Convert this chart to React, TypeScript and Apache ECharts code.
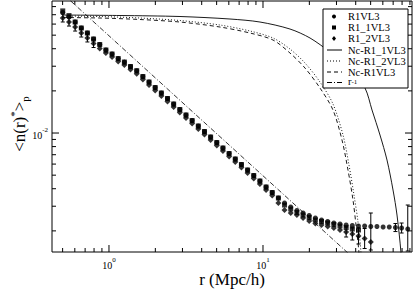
import React, { useEffect, useRef } from "react";
import * as echarts from "echarts";

// radial bins (Mpc/h)
const rBins = [0.501, 0.550, 0.603, 0.661, 0.724, 0.794, 0.871, 0.955, 1.047, 1.148, 1.259, 1.380, 1.514, 1.660, 1.820, 1.995, 2.188, 2.399, 2.630, 2.884, 3.162, 3.467, 3.802, 4.169, 4.571, 5.012, 5.495, 6.026, 6.607, 7.244, 7.943, 8.710, 9.550, 10.47, 11.48, 12.59, 13.80, 15.14, 16.60, 18.20, 19.95, 21.88, 23.99, 26.30, 28.84, 31.62, 34.67, 38.02, 41.69, 45.71, 50.12, 54.95, 60.26, 66.07, 72.44, 79.43, 87.10];

const r1vl3 = [0.07257, 0.06741, 0.06206, 0.05623, 0.05179, 0.04692, 0.04286, 0.03916, 0.03666, 0.03404, 0.03213, 0.02985, 0.02786, 0.02533, 0.02313, 0.02113, 0.01931, 0.01764, 0.01611, 0.01472, 0.01345, 0.01228, 0.01122, 0.01025, 0.009363, 0.008552, 0.007813, 0.007137, 0.006520, 0.005957, 0.005441, 0.004970, 0.004541, 0.004114, 0.003758, 0.003433, 0.003162, 0.002961, 0.002795, 0.002683, 0.002575, 0.002471, 0.002391, 0.002333, 0.002276, 0.002239, 0.002203, 0.002185, 0.002167, 0.002167, 0.002149, 0.002149, 0.002131, 0.002131, 0.002113, 0.002096, 0.002062];

const r1_1vl3 = [0.0745, 0.0690, 0.06206, 0.05623, 0.05179, 0.04692, 0.04286, 0.03916, 0.03666, 0.03404, 0.03213, 0.02985, 0.02786, 0.02533, 0.02313, 0.02113, 0.01931, 0.01764, 0.01611, 0.01472, 0.01345, 0.01228, 0.01122, 0.01025, 0.009363, 0.008552, 0.007813, 0.007137, 0.006520, 0.005957, 0.005441, 0.004970, 0.004541, 0.004114, 0.003758, 0.003433, 0.003060, 0.002865, 0.002705, 0.002596, 0.002491, 0.002391, 0.002333, 0.002276, 0.002221, 0.002167, 0.002113, 0.002062, 0.002029];

const r1_2vl3 = [0.06630, 0.06206, 0.05716, 0.05179, 0.04771, 0.04357, 0.04014, 0.03727, 0.03490, 0.03240, 0.03059, 0.02842, 0.02652, 0.02411, 0.02203, 0.02012, 0.01838, 0.01679, 0.01534, 0.01401, 0.01280, 0.01169, 0.01068, 0.009756, 0.008913, 0.008140, 0.007436, 0.006793, 0.006206, 0.005669, 0.005179, 0.004732, 0.004323, 0.003916, 0.003577, 0.003162, 0.002818, 0.002683, 0.002596, 0.002471, 0.002352, 0.002257, 0.002203, 0.002149, 0.002096, 0.002029, 0.001963, 0.001900, 0.001838, 0.001764, 0.001665];

// error bars
const errR = [0.501, 0.550, 0.603, 0.661, 0.724, 0.794, 34.67, 38.02, 41.69, 45.71, 50.12, 72.44, 79.43, 87.10];
const errLo = [0.0621, 0.0581, 0.0535, 0.0485, 0.0447, 0.0408, 0.001808, 0.001721, 0.001611, 0.001496, 0.001460, 0.001978, 0.001931, 0.001436];
const errHi = [0.0708, 0.0663, 0.0610, 0.0553, 0.0510, 0.0465, 0.002131, 0.002098, 0.002097, 0.002080, 0.002683, 0.002257, 0.002276, 0.003060];

// model curves
const ncR1_1R = [0.503, 1.179, 2.891, 6.106, 9.561, 14.97, 20.20, 27.23, 36.72, 45.95, 51.04, 57.51, 63.86, 69.88, 74.16, 78.73, 81.13];
const ncR1_1V = [0.06965, 0.06908, 0.06795, 0.06522, 0.06206, 0.05532, 0.04771, 0.03790, 0.02912, 0.02096, 0.01460, 0.009676, 0.006413, 0.003916, 0.002596, 0.001389, 0.000756];
const ncR1_2R = [0.503, 0.874, 1.590, 2.891, 5.258, 8.234, 11.61, 14.97, 18.74, 23.45, 28.48, 33.08, 36.18, 38.99, 41.39, 43.29, 44.61];
const ncR1_2V = [0.06852, 0.06795, 0.06630, 0.06362, 0.05907, 0.05354, 0.04771, 0.03981, 0.03162, 0.02313, 0.01611, 0.009676, 0.005908, 0.003606, 0.002314, 0.001389, 0.000756];
const ncR1R = [0.503, 0.874, 1.590, 2.891, 5.258, 8.234, 11.61, 14.97, 18.74, 23.45, 28.48, 32.59, 35.64, 38.41, 40.17, 42.01, 43.29];
const ncR1V = [0.06683, 0.06630, 0.06468, 0.06206, 0.05716, 0.05179, 0.04616, 0.03727, 0.02912, 0.02096, 0.01460, 0.008913, 0.005441, 0.003322, 0.002203, 0.001389, 0.000756];
const rInvR = [0.45, 90];
const rInvV = [0.11, 0.00055];

// axis ticks
const xMajorTicks = [1, 10];
const xMinorTicks = [0.5, 0.6, 0.7, 0.8, 0.9, 2, 3, 4, 5, 6, 7, 8, 9, 20, 30, 40, 50, 60, 70, 80, 90];
const yMajorTicks = [0.01];
const yMinorTicks = [0.002, 0.003, 0.004, 0.005, 0.006, 0.007, 0.008, 0.009, 0.02, 0.03, 0.04, 0.05, 0.06, 0.07, 0.08];

const X_MIN = 0.4266;
const X_MAX = 92.8;
const Y_MIN = 0.001413;
const Y_MAX = 0.0877;

const FONT = "'Liberation Serif', 'DejaVu Serif', serif";

export default function App() {
  const ref = useRef<HTMLDivElement>(null);
  useEffect(() => {
    if (!ref.current) return;
    const chart = echarts.init(ref.current, undefined, { renderer: "svg" });
    const near = (a: number, b: number) => Math.abs(a - b) < 1e-6 * Math.max(1, Math.abs(b));

    const xTickData = [
      ...xMajorTicks.map((v) => [v, 0.01, 1]),
      ...xMinorTicks.map((v) => [v, 0.01, 0]),
    ];
    const yTickData = [
      ...yMajorTicks.map((v) => [1, v, 1]),
      ...yMinorTicks.map((v) => [1, v, 0]),
    ];
    const tickStyle = { stroke: "#000", lineWidth: 1 };

    const legendX = 323;
    const legendY = 9;
    const rowY = [16.5, 27.5, 38.5, 50, 61, 72, 82.5];
    const symX = 334;
    const txtX = 348;
    const legendText = (t: string, y: number) => ({
      type: "text",
      z: 101,
      style: { text: t, x: txtX, y, font: `10.5px ${FONT}`, fill: "#000", verticalAlign: "middle" },
    });
    const legendLine = (y: number, dash: any) => ({
      type: "line",
      z: 101,
      shape: { x1: 327, y1: y, x2: 342, y2: y },
      style: { stroke: "#000", lineWidth: 1, lineDash: dash },
    });

    const option: any = {
      animation: false,
      grid: { left: 52, right: 3, top: 1, bottom: 37, show: true, borderColor: "#000", borderWidth: 1, backgroundColor: "transparent" },
      xAxis: {
        type: "log",
        logBase: 10,
        min: X_MIN,
        max: X_MAX,
        axisLine: { show: false },
        axisTick: { show: false },
        splitLine: { show: false },
        axisLabel: {
          margin: 4,
          showMinLabel: false,
          showMaxLabel: false,
          formatter: (v: number) => (near(v, 1) ? "{b|10}{s|0}" : near(v, 10) ? "{b|10}{s|1}" : ""),
          rich: {
            b: { fontSize: 10, fontFamily: FONT, color: "#000", lineHeight: 14, verticalAlign: "bottom" },
            s: { fontSize: 7, fontFamily: FONT, color: "#000", lineHeight: 14, verticalAlign: "top" },
          },
        },
      },
      yAxis: {
        type: "log",
        logBase: 10,
        min: Y_MIN,
        max: Y_MAX,
        axisLine: { show: false },
        axisTick: { show: false },
        splitLine: { show: false },
        axisLabel: {
          margin: 4,
          showMinLabel: false,
          showMaxLabel: false,
          formatter: (v: number) => (near(v, 0.01) ? "{b|10}{s|-2}" : ""),
          rich: {
            b: { fontSize: 10, fontFamily: FONT, color: "#000", lineHeight: 14, verticalAlign: "bottom" },
            s: { fontSize: 7, fontFamily: FONT, color: "#000", lineHeight: 14, verticalAlign: "top" },
          },
        },
      },
      series: [
        {
          type: "custom",
          name: "xticks",
          data: xTickData,
          encode: { x: 0, y: 1 },
          silent: true,
          z: 5,
          renderItem: (params: any, api: any) => {
            const cs = params.coordSys;
            const px = api.coord([api.value(0), 0.01])[0];
            const len = api.value(2) ? 7 : 4;
            return {
              type: "group",
              children: [
                { type: "line", shape: { x1: px, y1: cs.y + cs.height, x2: px, y2: cs.y + cs.height - len }, style: tickStyle },
                { type: "line", shape: { x1: px, y1: cs.y, x2: px, y2: cs.y + len }, style: tickStyle },
              ],
            };
          },
        },
        {
          type: "custom",
          name: "yticks",
          data: yTickData,
          encode: { x: 0, y: 1 },
          silent: true,
          z: 5,
          renderItem: (params: any, api: any) => {
            const cs = params.coordSys;
            const py = api.coord([1, api.value(1)])[1];
            const len = api.value(2) ? 7 : 4;
            return {
              type: "group",
              children: [
                { type: "line", shape: { x1: cs.x, y1: py, x2: cs.x + len, y2: py }, style: tickStyle },
                { type: "line", shape: { x1: cs.x + cs.width, y1: py, x2: cs.x + cs.width - len, y2: py }, style: tickStyle },
              ],
            };
          },
        },
        {
          type: "line",
          name: "r^-1",
          data: rInvR.map((r, i) => [r, rInvV[i]]),
          showSymbol: false,
          symbol: "none",
          clip: true,
          lineStyle: { color: "#000", width: 0.8, type: [5, 2, 1, 2] },
          z: 3,
        },
        {
          type: "line",
          name: "Nc-R1_1VL3",
          data: ncR1_1R.map((r, i) => [r, ncR1_1V[i]]),
          showSymbol: false,
          symbol: "none",
          smooth: 0.3,
          clip: true,
          lineStyle: { color: "#000", width: 0.9, type: "solid" },
          z: 3,
        },
        {
          type: "line",
          name: "Nc-R1_2VL3",
          data: ncR1_2R.map((r, i) => [r, ncR1_2V[i]]),
          showSymbol: false,
          symbol: "none",
          smooth: 0.3,
          clip: true,
          lineStyle: { color: "#000", width: 0.9, type: [1, 2] },
          z: 3,
        },
        {
          type: "line",
          name: "Nc-R1VL3",
          data: ncR1R.map((r, i) => [r, ncR1V[i]]),
          showSymbol: false,
          symbol: "none",
          smooth: 0.3,
          clip: true,
          lineStyle: { color: "#000", width: 0.9, type: [4, 3] },
          z: 3,
        },
        {
          type: "custom",
          name: "errors",
          data: errR.map((r, i) => [r, errLo[i], errHi[i]]),
          encode: { x: 0, y: [1, 2] },
          z: 4,
          renderItem: (params: any, api: any) => {
            const a = api.coord([api.value(0), api.value(1)]);
            const b = api.coord([api.value(0), api.value(2)]);
            const c = 2;
            const st = { stroke: "#000", lineWidth: 1 };
            return {
              type: "group",
              children: [
                { type: "line", shape: { x1: a[0], y1: a[1], x2: b[0], y2: b[1] }, style: st },
                { type: "line", shape: { x1: a[0] - c, y1: a[1], x2: a[0] + c, y2: a[1] }, style: st },
                { type: "line", shape: { x1: b[0] - c, y1: b[1], x2: b[0] + c, y2: b[1] }, style: st },
              ],
            };
          },
        },
        {
          type: "scatter",
          name: "R1_2VL3",
          data: r1_2vl3.map((v, i) => [rBins[i], v]),
          symbol: "diamond",
          symbolSize: 6,
          itemStyle: { color: "#000" },
          z: 6,
        },
        {
          type: "scatter",
          name: "R1_1VL3",
          data: r1_1vl3.map((v, i) => [rBins[i], v]),
          symbol: "rect",
          symbolSize: 5,
          itemStyle: { color: "#000" },
          z: 6,
        },
        {
          type: "scatter",
          name: "R1VL3",
          data: r1vl3.map((v, i) => [rBins[i], v]),
          symbol: "circle",
          symbolSize: 5,
          itemStyle: { color: "#000" },
          z: 6,
        },
      ],
      graphic: [
        {
          type: "rect",
          z: 100,
          shape: { x: legendX, y: legendY, width: 85, height: 79 },
          style: { fill: "#fff", stroke: "#000", lineWidth: 1 },
        },
        { type: "circle", z: 101, shape: { cx: symX, cy: rowY[0], r: 2 }, style: { fill: "#000" } },
        { type: "rect", z: 101, shape: { x: symX - 2, y: rowY[1] - 2, width: 4, height: 4 }, style: { fill: "#000" } },
        {
          type: "polygon",
          z: 101,
          shape: { points: [[symX, rowY[2] - 2.5], [symX + 2, rowY[2]], [symX, rowY[2] + 2.5], [symX - 2, rowY[2]]] },
          style: { fill: "#000" },
        },
        legendLine(rowY[3], null),
        legendLine(rowY[4], [1, 2]),
        legendLine(rowY[5], [4, 3]),
        legendLine(rowY[6], [5, 2, 1, 2]),
        legendText("R1VL3", rowY[0]),
        legendText("R1_1VL3", rowY[1]),
        legendText("R1_2VL3", rowY[2]),
        legendText("Nc-R1_1VL3", rowY[3]),
        legendText("Nc-R1_2VL3", rowY[4]),
        legendText("Nc-R1VL3", rowY[5]),
        {
          type: "text",
          z: 101,
          style: {
            text: "{b|r}{s|-1}",
            x: txtX,
            y: rowY[6],
            verticalAlign: "middle",
            rich: {
              b: { font: `10.5px ${FONT}`, fill: "#000", lineHeight: 9, verticalAlign: "bottom" },
              s: { font: `7px ${FONT}`, fill: "#000", lineHeight: 9, verticalAlign: "top" },
            },
          },
        },
        {
          type: "text",
          z: 101,
          x: 19,
          y: 124,
          rotation: Math.PI / 2,
          style: {
            text: "{b|<n(r)}{s|*}{b|>}{p|p}",
            x: 0,
            y: 0,
            align: "center",
            verticalAlign: "middle",
            rich: {
              b: { font: `17px ${FONT}`, fill: "#000", lineHeight: 22, verticalAlign: "middle" },
              s: { font: `11px ${FONT}`, fill: "#000", lineHeight: 22, verticalAlign: "top" },
              p: { font: `11px ${FONT}`, fill: "#000", lineHeight: 22, verticalAlign: "bottom" },
            },
          },
        },
        {
          type: "text",
          z: 101,
          style: {
            text: "r (Mpc/h)",
            x: 232,
            y: 279,
            align: "center",
            verticalAlign: "middle",
            font: `17px ${FONT}`,
            fill: "#000",
          },
        },
      ],
    };
    chart.setOption(option);
    return () => chart.dispose();
  }, []);
  return <div ref={ref} style={{ position: "absolute", left: 0, top: 0, width: 415, height: 289 }} />;
}
